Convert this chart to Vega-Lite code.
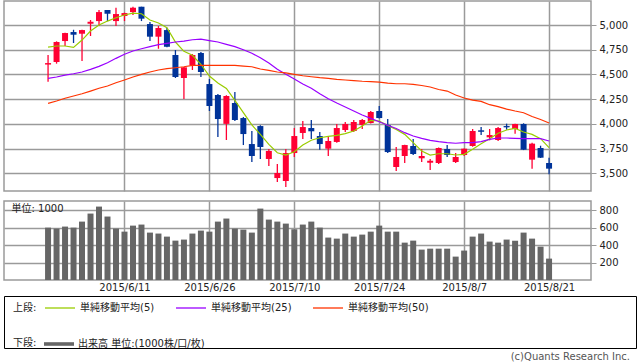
{
  "$schema": "https://vega.github.io/schema/vega-lite/v6.json",
  "padding": {"left": 3, "top": 0, "right": 0, "bottom": 0},
  "background": "white",
  "data": {"values": [
    {"i":0,"date":"2015-05-29","open":4600,"high":4697,"low":4426,"close":4615,"volume":600,"ma5":4777,"ma25":4461,"ma50":4208},
    {"i":1,"date":"2015-06-01","open":4626,"high":4835,"low":4609,"close":4828,"volume":589,"ma5":4788,"ma25":4474,"ma50":4231},
    {"i":2,"date":"2015-06-02","open":4838,"high":4922,"low":4788,"close":4919,"volume":612,"ma5":4788,"ma25":4494,"ma50":4259},
    {"i":3,"date":"2015-06-03","open":4929,"high":4952,"low":4818,"close":4902,"volume":600,"ma5":4774,"ma25":4507,"ma50":4282},
    {"i":4,"date":"2015-06-04","open":4912,"high":4952,"low":4636,"close":4949,"volume":669,"ma5":4848,"ma25":4525,"ma50":4305},
    {"i":5,"date":"2015-06-05","open":5013,"high":5051,"low":4889,"close":5033,"volume":761,"ma5":4939,"ma25":4552,"ma50":4332},
    {"i":6,"date":"2015-06-08","open":5040,"high":5152,"low":4990,"close":5131,"volume":841,"ma5":5000,"ma25":4582,"ma50":4360},
    {"i":7,"date":"2015-06-09","open":5152,"high":5152,"low":5040,"close":5114,"volume":727,"ma5":5040,"ma25":4619,"ma50":4383},
    {"i":8,"date":"2015-06-10","open":5040,"high":5175,"low":4990,"close":5111,"volume":589,"ma5":5074,"ma25":4663,"ma50":4416},
    {"i":9,"date":"2015-06-11","open":5091,"high":5125,"low":5040,"close":5121,"volume":554,"ma5":5101,"ma25":4704,"ma50":4444},
    {"i":10,"date":"2015-06-12","open":5131,"high":5185,"low":5101,"close":5175,"volume":623,"ma5":5121,"ma25":4737,"ma50":4474},
    {"i":11,"date":"2015-06-15","open":5185,"high":5185,"low":5040,"close":5064,"volume":635,"ma5":5114,"ma25":4760,"ma50":4501},
    {"i":12,"date":"2015-06-16","open":5010,"high":5030,"low":4838,"close":4882,"volume":543,"ma5":5051,"ma25":4781,"ma50":4525},
    {"i":13,"date":"2015-06-17","open":4882,"high":4990,"low":4760,"close":4970,"volume":532,"ma5":5020,"ma25":4801,"ma50":4545},
    {"i":14,"date":"2015-06-18","open":4949,"high":4973,"low":4775,"close":4780,"volume":497,"ma5":4973,"ma25":4815,"ma50":4558},
    {"i":15,"date":"2015-06-19","open":4697,"high":4747,"low":4464,"close":4474,"volume":451,"ma5":4828,"ma25":4828,"ma50":4568},
    {"i":16,"date":"2015-06-22","open":4464,"high":4575,"low":4251,"close":4572,"volume":463,"ma5":4734,"ma25":4838,"ma50":4578},
    {"i":17,"date":"2015-06-23","open":4595,"high":4707,"low":4545,"close":4697,"volume":532,"ma5":4694,"ma25":4851,"ma50":4592},
    {"i":18,"date":"2015-06-24","open":4717,"high":4727,"low":4474,"close":4525,"volume":566,"ma5":4603,"ma25":4858,"ma50":4592},
    {"i":19,"date":"2015-06-25","open":4403,"high":4454,"low":4130,"close":4181,"volume":554,"ma5":4484,"ma25":4843,"ma50":4592},
    {"i":20,"date":"2015-06-26","open":4292,"high":4302,"low":3867,"close":4049,"volume":669,"ma5":4413,"ma25":4828,"ma50":4592},
    {"i":21,"date":"2015-06-29","open":4000,"high":4290,"low":3837,"close":4282,"volume":704,"ma5":4358,"ma25":4805,"ma50":4592},
    {"i":22,"date":"2015-06-30","open":4211,"high":4322,"low":4029,"close":4039,"volume":589,"ma5":4238,"ma25":4781,"ma50":4592},
    {"i":23,"date":"2015-07-01","open":4059,"high":4069,"low":3786,"close":3897,"volume":577,"ma5":4113,"ma25":4750,"ma50":4585},
    {"i":24,"date":"2015-07-02","open":3796,"high":3928,"low":3614,"close":3675,"volume":543,"ma5":3989,"ma25":4714,"ma50":4578},
    {"i":25,"date":"2015-07-03","open":3978,"high":3985,"low":3645,"close":3766,"volume":818,"ma5":3894,"ma25":4669,"ma50":4555},
    {"i":26,"date":"2015-07-06","open":3645,"high":3746,"low":3574,"close":3726,"volume":692,"ma5":3793,"ma25":4616,"ma50":4542},
    {"i":27,"date":"2015-07-07","open":3452,"high":3594,"low":3412,"close":3503,"volume":669,"ma5":3708,"ma25":4552,"ma50":4525},
    {"i":28,"date":"2015-07-08","open":3422,"high":3746,"low":3361,"close":3705,"volume":646,"ma5":3685,"ma25":4501,"ma50":4515},
    {"i":29,"date":"2015-07-09","open":3705,"high":3958,"low":3665,"close":3877,"volume":581,"ma5":3718,"ma25":4454,"ma50":4501},
    {"i":30,"date":"2015-07-10","open":3908,"high":4029,"low":3847,"close":3968,"volume":635,"ma5":3786,"ma25":4403,"ma50":4487},
    {"i":31,"date":"2015-07-13","open":3958,"high":4039,"low":3847,"close":3925,"volume":669,"ma5":3834,"ma25":4360,"ma50":4477},
    {"i":32,"date":"2015-07-14","open":3877,"high":3918,"low":3739,"close":3796,"volume":600,"ma5":3860,"ma25":4305,"ma50":4467},
    {"i":33,"date":"2015-07-15","open":3749,"high":3867,"low":3675,"close":3827,"volume":486,"ma5":3874,"ma25":4255,"ma50":4461},
    {"i":34,"date":"2015-07-16","open":3817,"high":3999,"low":3810,"close":3958,"volume":474,"ma5":3884,"ma25":4211,"ma50":4451},
    {"i":35,"date":"2015-07-17","open":3938,"high":4019,"low":3918,"close":3999,"volume":532,"ma5":3901,"ma25":4171,"ma50":4444},
    {"i":36,"date":"2015-07-21","open":3928,"high":4039,"low":3918,"close":4019,"volume":497,"ma5":3928,"ma25":4130,"ma50":4437},
    {"i":37,"date":"2015-07-22","open":3989,"high":4049,"low":3948,"close":4039,"volume":520,"ma5":3978,"ma25":4090,"ma50":4431},
    {"i":38,"date":"2015-07-23","open":4009,"high":4130,"low":4005,"close":4120,"volume":554,"ma5":4036,"ma25":4056,"ma50":4427},
    {"i":39,"date":"2015-07-24","open":4130,"high":4181,"low":4055,"close":4059,"volume":623,"ma5":4029,"ma25":4022,"ma50":4423},
    {"i":40,"date":"2015-07-27","open":3989,"high":4049,"low":3705,"close":3715,"volume":554,"ma5":3984,"ma25":3986,"ma50":4413},
    {"i":41,"date":"2015-07-28","open":3564,"high":3766,"low":3523,"close":3665,"volume":554,"ma5":3943,"ma25":3953,"ma50":4406},
    {"i":42,"date":"2015-07-29","open":3675,"high":3790,"low":3604,"close":3786,"volume":428,"ma5":3894,"ma25":3911,"ma50":4406},
    {"i":43,"date":"2015-07-30","open":3776,"high":3847,"low":3685,"close":3695,"volume":451,"ma5":3810,"ma25":3877,"ma50":4400},
    {"i":44,"date":"2015-07-31","open":3652,"high":3746,"low":3614,"close":3675,"volume":348,"ma5":3726,"ma25":3854,"ma50":4388},
    {"i":45,"date":"2015-08-03","open":3607,"high":3645,"low":3533,"close":3627,"volume":359,"ma5":3685,"ma25":3834,"ma50":4373},
    {"i":46,"date":"2015-08-04","open":3604,"high":3760,"low":3594,"close":3756,"volume":359,"ma5":3698,"ma25":3820,"ma50":4348},
    {"i":47,"date":"2015-08-05","open":3746,"high":3786,"low":3665,"close":3685,"volume":359,"ma5":3698,"ma25":3810,"ma50":4332},
    {"i":48,"date":"2015-08-06","open":3614,"high":3705,"low":3604,"close":3665,"volume":268,"ma5":3685,"ma25":3804,"ma50":4292},
    {"i":49,"date":"2015-08-07","open":3685,"high":3752,"low":3675,"close":3749,"volume":337,"ma5":3692,"ma25":3810,"ma50":4262},
    {"i":50,"date":"2015-08-10","open":3776,"high":3948,"low":3769,"close":3928,"volume":497,"ma5":3743,"ma25":3810,"ma50":4241},
    {"i":51,"date":"2015-08-11","open":3935,"high":3968,"low":3887,"close":3920,"volume":532,"ma5":3800,"ma25":3820,"ma50":4228},
    {"i":52,"date":"2015-08-12","open":3864,"high":3948,"low":3834,"close":3887,"volume":440,"ma5":3850,"ma25":3844,"ma50":4194},
    {"i":53,"date":"2015-08-13","open":3837,"high":3968,"low":3827,"close":3958,"volume":428,"ma5":3905,"ma25":3857,"ma50":4174},
    {"i":54,"date":"2015-08-14","open":3978,"high":4002,"low":3941,"close":3965,"volume":463,"ma5":3938,"ma25":3857,"ma50":4150},
    {"i":55,"date":"2015-08-17","open":3948,"high":4002,"low":3901,"close":3999,"volume":451,"ma5":3955,"ma25":3854,"ma50":4130},
    {"i":56,"date":"2015-08-18","open":3999,"high":4006,"low":3735,"close":3739,"volume":543,"ma5":3918,"ma25":3850,"ma50":4113},
    {"i":57,"date":"2015-08-19","open":3638,"high":3810,"low":3547,"close":3800,"volume":474,"ma5":3894,"ma25":3850,"ma50":4075},
    {"i":58,"date":"2015-08-20","open":3756,"high":3779,"low":3655,"close":3658,"volume":382,"ma5":3850,"ma25":3850,"ma50":4044},
    {"i":59,"date":"2015-08-21","open":3604,"high":3658,"low":3490,"close":3547,"volume":245,"ma5":3759,"ma25":3827,"ma50":4009}
  ]},
  "spacing": 2,
  "vconcat": [
    {
      "spacing": 8,
      "vconcat": [
        {
          "width": 587,
          "height": 190,
          "encoding": {
            "x": {"field": "i", "type": "quantitative", "title": null,
              "scale": {"domain": [-4.6, 63.35], "nice": false, "zero": false},
              "axis": {"values": [9, 19, 29, 39, 49, 59], "labels": false, "ticks": false, "domain": false, "grid": true}}
          },
          "layer": [
            {
              "mark": {"type": "rule", "strokeWidth": 1.3},
              "encoding": {
                "y": {"field": "low", "type": "quantitative", "title": null,
                  "scale": {"domain": [3321, 5243], "nice": false, "zero": false},
                  "axis": {"orient": "right", "values": [3500, 3750, 4000, 4250, 4500, 4750, 5000], "format": ",.0f", "tickSize": 5, "labelPadding": 3, "grid": true, "domain": false}},
                "y2": {"field": "high"},
                "color": {"condition": {"test": "datum.close >= datum.open", "value": "#ff0033"}, "value": "#003399"}
              }
            },
            {
              "mark": {"type": "bar", "size": 6},
              "encoding": {
                "y": {"field": "open", "type": "quantitative", "title": null,
                  "scale": {"domain": [3321, 5243], "nice": false, "zero": false},
                  "axis": {"orient": "right", "values": [3500, 3750, 4000, 4250, 4500, 4750, 5000], "format": ",.0f", "tickSize": 5, "labelPadding": 3, "grid": true, "domain": false}},
                "y2": {"field": "close"},
                "color": {"condition": {"test": "datum.close >= datum.open", "value": "#ff0033"}, "value": "#003399"}
              }
            },
            {
              "transform": [{"fold": ["ma5", "ma25", "ma50"], "as": ["series", "value"]}],
              "mark": {"type": "line", "strokeWidth": 1.2},
              "encoding": {
                "y": {"field": "value", "type": "quantitative", "title": null,
                  "scale": {"domain": [3321, 5243], "nice": false, "zero": false},
                  "axis": {"orient": "right", "values": [3500, 3750, 4000, 4250, 4500, 4750, 5000], "format": ",.0f", "tickSize": 5, "labelPadding": 3, "grid": true, "domain": false}},
                "color": {"field": "series", "type": "nominal",
                  "scale": {"domain": ["ma5", "ma25", "ma50"], "range": ["#99cc00", "#9900ff", "#ff3300"]},
                  "legend": {"orient": "none", "legendX": 9, "legendY": 291, "direction": "horizontal",
                    "title": "上段:", "titleOrient": "left", "titlePadding": 7,
                    "symbolType": "stroke", "symbolSize": 900, "symbolStrokeWidth": 1.3,
                    "labelOffset": 4, "columnPadding": 18,
                    "labelExpr": "datum.label == 'ma5' ? '単純移動平均(5)' : datum.label == 'ma25' ? '単純移動平均(25)' : '単純移動平均(50)'",
                    "encode": {"title": {"update": {"dy": {"value": 5}}}}}}
              }
            }
          ]
        },
        {
          "width": 587,
          "height": 79,
          "mark": {"type": "bar", "size": 6},
          "encoding": {
            "x": {"field": "i", "type": "quantitative", "title": null,
              "scale": {"domain": [-4.6, 63.35], "nice": false, "zero": false},
              "axis": {"values": [9, 19, 29, 39, 49, 59], "ticks": false, "tickSize": 0, "labelPadding": 2, "domain": false, "grid": true, "labelBaseline": "top",
                "labelExpr": "['2015/6/11','2015/6/26','2015/7/10','2015/7/24','2015/8/7','2015/8/21'][(datum.value - 9) / 10]"}},
            "y": {"field": "volume", "type": "quantitative",
              "scale": {"domain": [0, 905], "nice": false},
              "axis": {"orient": "right", "values": [200, 400, 600, 800], "tickSize": 5, "labelPadding": 3, "domain": false, "grid": true,
                "title": "単位: 1000", "titleAngle": 0, "titleX": -580, "titleY": 7, "titleAlign": "left", "titleBaseline": "middle",
                "titleFontSize": 10, "titleFontWeight": "normal", "titleColor": "#222"}},
            "fill": {"datum": "出来高 単位:(1000株/口/枚)", "scale": {"range": ["#666666"]},
              "legend": {"orient": "none", "legendX": 9, "legendY": 328, "title": "下段:", "titleOrient": "left", "titlePadding": 7,
                "symbolType": "M-1,-0.12H1V0.12H-1Z", "symbolSize": 900, "symbolStrokeWidth": 0, "labelOffset": 4,
                "encode": {"title": {"update": {"dy": {"value": 4}}}}}}
          }
        }
      ]
    },
    {
      "width": 632,
      "height": 52,
      "view": {"stroke": "#000000", "strokeWidth": 1},
      "data": {"values": []},
      "mark": "point",
      "title": {"text": "(c)Quants Research Inc.", "orient": "bottom", "anchor": "end", "fontSize": 10, "fontWeight": "normal", "color": "#555555", "offset": 4, "dx": -6}
    }
  ],
  "config": {
    "font": "DejaVu Sans, Noto Sans CJK JP",
    "view": {"stroke": "#9a9a9a", "strokeWidth": 1.5},
    "axis": {"gridColor": "#9a9a9a", "gridWidth": 1.5, "gridOpacity": 1, "labelFontSize": 10, "labelColor": "#222222", "tickColor": "#9a9a9a", "tickWidth": 1},
    "legend": {"labelFontSize": 10, "titleFontSize": 10, "titleFontWeight": "normal", "labelColor": "#222222", "titleColor": "#222222", "padding": 0}
  }
}
